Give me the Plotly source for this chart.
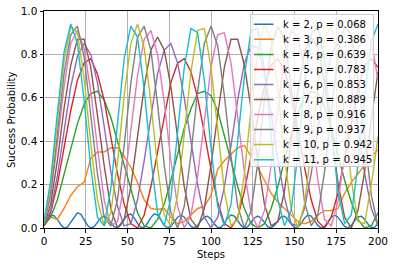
import plotly.graph_objects as go

steps = list(range(0, 201, 4))
steps_k2 = list(range(0, 201, 2))

labels = ["k = 2, p = 0.068", "k = 3, p = 0.386", "k = 4, p = 0.639", "k = 5, p = 0.783",
          "k = 6, p = 0.853", "k = 7, p = 0.889", "k = 8, p = 0.916", "k = 9, p = 0.937",
          "k = 10, p = 0.942", "k = 11, p = 0.945"]
colors = ["#1f77b4", "#ff7f0e", "#2ca02c", "#d62728", "#9467bd",
          "#8c564b", "#e377c2", "#7f7f7f", "#bcbd22", "#17becf"]
x_ticks = [0, 25, 50, 75, 100, 125, 150, 175, 200]
y_ticks = [0, 0.2, 0.4, 0.6, 0.8, 1.0]

k2 = [0.02, 0.04, 0.057, 0.057, 0.04, 0.016, 0.0, 0.004, 0.026, 0.053, 0.07,
      0.064, 0.04, 0.013, 0.0, 0.006, 0.026, 0.046, 0.055, 0.046, 0.026,
      0.006, 0.0, 0.014, 0.04, 0.06, 0.064, 0.047, 0.021, 0.002, 0.003,
      0.022, 0.048, 0.065, 0.06, 0.038, 0.013, 0.0, 0.007, 0.028, 0.05,
      0.06, 0.05, 0.028, 0.007, 0.0, 0.012, 0.033, 0.051, 0.054, 0.04,
      0.018, 0.002, 0.003, 0.021, 0.045, 0.06, 0.055, 0.035, 0.012, 0.0,
      0.006, 0.026, 0.046, 0.055, 0.046, 0.026, 0.006, 0.0, 0.012, 0.033,
      0.051, 0.054, 0.04, 0.018, 0.002, 0.003, 0.021, 0.045, 0.06, 0.055,
      0.035, 0.012, 0.0, 0.007, 0.028, 0.05, 0.06, 0.05, 0.028, 0.007,
      0.0, 0.012, 0.033, 0.051, 0.054, 0.04, 0.018, 0.002, 0.003, 0.021]
k3 = [0.02, 0.05, 0.04, 0.09, 0.15, 0.19, 0.21, 0.32, 0.35, 0.35, 0.37, 0.37, 0.33,
      0.28, 0.21, 0.13, 0.09, 0.085, 0.09, 0.05, 0.02, 0.03, 0.06, 0.09, 0.10, 0.15,
      0.27, 0.31, 0.34, 0.37, 0.38, 0.33, 0.28, 0.22, 0.16, 0.12, 0.09, 0.06, 0.03,
      0.02, 0.03, 0.06, 0.08, 0.08, 0.09, 0.16, 0.21, 0.25, 0.29, 0.33, 0.36]
k4 = [0.01, 0.05, 0.13, 0.25, 0.37, 0.48, 0.57, 0.62, 0.63, 0.59, 0.51, 0.40, 0.28,
      0.17, 0.07, 0.01, 0.0, 0.04, 0.11, 0.22, 0.34, 0.46, 0.55, 0.62, 0.63, 0.61,
      0.54, 0.43, 0.31, 0.19, 0.09, 0.02, 0.0, 0.02, 0.09, 0.19, 0.31, 0.43, 0.53,
      0.60, 0.63, 0.62, 0.56, 0.46, 0.34, 0.22, 0.12, 0.04, 0.0, 0.01, 0.07]
k5 = [0.01, 0.07, 0.20, 0.37, 0.54, 0.68, 0.76, 0.78, 0.71, 0.59, 0.42, 0.25, 0.11,
      0.02, 0.0, 0.06, 0.19, 0.35, 0.52, 0.67, 0.76, 0.78, 0.72, 0.60, 0.44, 0.27,
      0.12, 0.02, 0.0, 0.05, 0.17, 0.33, 0.51, 0.65, 0.75, 0.78, 0.73, 0.61, 0.45,
      0.28, 0.13, 0.03, 0.0, 0.05, 0.16, 0.32, 0.49, 0.64, 0.75, 0.78, 0.74]
k6 = [0.01, 0.08, 0.24, 0.45, 0.65, 0.79, 0.85, 0.80, 0.67, 0.47, 0.26, 0.10, 0.01,
      0.02, 0.13, 0.31, 0.52, 0.71, 0.82, 0.85, 0.76, 0.60, 0.40, 0.20, 0.05, 0.0,
      0.05, 0.19, 0.38, 0.59, 0.76, 0.84, 0.83, 0.71, 0.53, 0.32, 0.14, 0.02, 0.01,
      0.09, 0.25, 0.46, 0.66, 0.80, 0.85, 0.80, 0.66, 0.46, 0.25, 0.09, 0.01]
k7 = [0.01, 0.11, 0.31, 0.55, 0.75, 0.87, 0.87, 0.74, 0.52, 0.29, 0.09, 0.0, 0.04,
      0.19, 0.42, 0.65, 0.82, 0.88, 0.82, 0.65, 0.42, 0.19, 0.04, 0.0, 0.09, 0.29,
      0.52, 0.74, 0.87, 0.87, 0.75, 0.55, 0.31, 0.11, 0.01, 0.03, 0.17, 0.39, 0.63,
      0.81, 0.88, 0.83, 0.67, 0.44, 0.21, 0.05, 0.0, 0.08, 0.26, 0.50, 0.72]
k8 = [0.02, 0.15, 0.39, 0.65, 0.85, 0.91, 0.83, 0.63, 0.37, 0.13, 0.01, 0.03, 0.20,
      0.44, 0.70, 0.87, 0.91, 0.80, 0.58, 0.31, 0.10, 0.0, 0.06, 0.24, 0.50, 0.74,
      0.89, 0.90, 0.76, 0.52, 0.26, 0.07, 0.0, 0.08, 0.29, 0.55, 0.78, 0.91, 0.88,
      0.72, 0.47, 0.22, 0.04, 0.01, 0.12, 0.34, 0.60, 0.82, 0.91, 0.86, 0.68]
k9 = [0.02, 0.16, 0.43, 0.71, 0.89, 0.93, 0.79, 0.53, 0.25, 0.05, 0.01, 0.13, 0.38,
      0.67, 0.88, 0.93, 0.82, 0.57, 0.29, 0.07, 0.0, 0.10, 0.34, 0.63, 0.85, 0.93,
      0.84, 0.61, 0.33, 0.10, 0.0, 0.08, 0.30, 0.59, 0.83, 0.93, 0.87, 0.65, 0.37,
      0.12, 0.01, 0.06, 0.26, 0.54, 0.80, 0.93, 0.89, 0.69, 0.41, 0.15, 0.01]
k10 = [0.02, 0.20, 0.49, 0.77, 0.93, 0.90, 0.69, 0.39, 0.13, 0.01, 0.07, 0.30, 0.61,
       0.85, 0.94, 0.83, 0.58, 0.28, 0.06, 0.01, 0.15, 0.42, 0.72, 0.91, 0.92, 0.74,
       0.45, 0.17, 0.01, 0.04, 0.25, 0.55, 0.81, 0.94, 0.87, 0.64, 0.33, 0.09, 0.0,
       0.11, 0.36, 0.66, 0.88, 0.93, 0.79, 0.52, 0.22, 0.03, 0.02, 0.20, 0.42]
k11 = [0.03, 0.22, 0.53, 0.81, 0.94, 0.85, 0.59, 0.28, 0.05, 0.01, 0.18, 0.48, 0.78,
       0.93, 0.88, 0.64, 0.32, 0.07, 0.01, 0.14, 0.43, 0.74, 0.92, 0.90, 0.68, 0.37,
       0.10, 0.01, 0.11, 0.39, 0.70, 0.91, 0.92, 0.73, 0.42, 0.13, 0.01, 0.08, 0.34,
       0.66, 0.89, 0.93, 0.77, 0.47, 0.17, 0.02, 0.06, 0.29, 0.61, 0.86, 0.94]

series = [k2, k3, k4, k5, k6, k7, k8, k9, k10, k11]

W, H = 395, 266
L, R, T, B = 44, 17, 11, 38
pw, ph = W - L - R, H - T - B


def px(xp):
    return (xp - L) / pw


def py(yp):
    return (H - B - yp) / ph


fig = go.Figure()
for i, (lab, col, vals) in enumerate(zip(labels, colors, series)):
    xs = steps_k2 if i == 0 else steps
    fig.add_trace(go.Scatter(x=xs, y=vals, mode="lines", name=lab, showlegend=False,
                             line=dict(color=col, width=1.4)))

axis_common = dict(showline=True, linecolor="black", linewidth=1, mirror=True,
                   ticks="outside", ticklen=3.5, tickcolor="black", automargin=False,
                   showgrid=True, gridcolor="#b0b0b0", gridwidth=0.8,
                   zeroline=False, tickfont=dict(size=10.5, color="black"))

annotations = []
# legend frame as an annotation box (drawn above the traces)
box_l, box_r, box_t, box_b = 250, 374, 14, 167
annotations.append(dict(text=" ", xref="paper", yref="paper",
                        x=px((box_l + box_r) / 2), y=py((box_t + box_b) / 2),
                        xanchor="center", yanchor="middle", showarrow=False,
                        width=box_r - box_l - 2, height=box_b - box_t - 2,
                        bgcolor="rgba(255,255,255,0.8)", bordercolor="#cccccc",
                        borderwidth=1, borderpad=0))
for i, (lab, col) in enumerate(zip(labels, colors)):
    yy = py(24.3 + 15.04 * i)
    annotations.append(dict(text="", xref="paper", yref="paper", x=px(273.5), y=yy,
                            ax=-21, ay=0, axref="pixel", ayref="pixel",
                            showarrow=True, arrowhead=0, arrowwidth=1.5,
                            arrowcolor=col, standoff=0, startstandoff=0))
    annotations.append(dict(text=lab, xref="paper", yref="paper", x=px(280.5), y=yy,
                            xanchor="left", yanchor="middle", showarrow=False,
                            font=dict(size=10, color="black")))

annotations.append(dict(text="Steps", xref="paper", yref="paper", x=0.5, y=py(254.5),
                        xanchor="center", yanchor="middle", showarrow=False,
                        font=dict(size=10, color="black")))
annotations.append(dict(text="Success Probability", xref="paper", yref="paper",
                        x=px(12), y=py(120), xanchor="center", yanchor="middle",
                        textangle=-90, showarrow=False, font=dict(size=10, color="black")))

fig.update_layout(
    width=W, height=H,
    margin=dict(l=L, r=R, t=T, b=B),
    paper_bgcolor="white", plot_bgcolor="white",
    font=dict(family="DejaVu Sans", size=10, color="black"),
    xaxis=dict(range=[0, 200], tickvals=x_ticks, **axis_common),
    yaxis=dict(range=[0, 1], tickvals=y_ticks, tickformat=".1f", **axis_common),
    annotations=annotations,
    showlegend=False,
)

fig.write_html("out.html", config={"displayModeBar": False},
               post_script="document.body.style.margin='0px';")
